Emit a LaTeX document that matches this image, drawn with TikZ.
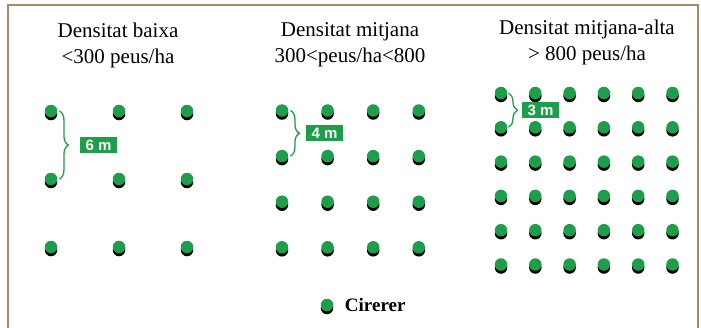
\documentclass[tikz,border=0pt]{standalone}
\usepackage{fontspec}
\setmainfont{Liberation Serif}
\newfontfamily\distfont{Liberation Sans}
\usetikzlibrary{positioning}
\usetikzlibrary{calc}
\usetikzlibrary{shadows}
\usetikzlibrary{decorations.pathreplacing}
\definecolor{treegreen}{HTML}{1E9E4A}
\definecolor{framebrown}{HTML}{A68B63}
\tikzset{
    tree/.style = {circle,fill=treegreen,inner sep=0,minimum size=12.5pt,
        drop shadow={shadow xshift=0pt,shadow yshift=-3pt,opacity=1,fill=black}},
    dist/.style = {fill=treegreen,text=white,inner xsep=5.5pt,inner ysep=0pt,minimum height=16pt,
        font=\distfont\bfseries\fontsize{15}{15}\selectfont},
    gap/.style = {draw=treegreen,line width=1.3pt,decorate,decoration={brace,amplitude=9pt}},
    title/.style = {align=center,font=\fontsize{21}{26}\selectfont},
    frame/.style = {draw=framebrown,line width=2pt}
}
\begin{document}
\begin{tikzpicture}[x=1pt,y=-1pt]
        \useasboundingbox (0,0) rectangle (701,327);
        \newcommand\sepa{68}
        \newcommand\sepb{45.6}
        \newcommand\sepc{34.3}
        % Frame
        \draw[frame] (7.5,340) -- (7.5,5) -- (698,5) -- (698,340);
        % Titles
        \node[title] (ta) at (118,45) {Densitat baixa\\<300 peus/ha};
        \node[title] (tb) at (350,45) {Densitat mitjana\\300<peus/ha<800};
        \node[title] (tc) at (587,42) {Densitat mitjana-alta\\> 800 peus/ha};
        % Trees
        \foreach \i in {0,1,2}
            \foreach \j in {0,1,2}
                \node[tree] (a\i\j) at (51+\sepa*\j,111+\sepa*\i) {};
        \foreach \i in {0,...,3}
            \foreach \j in {0,...,3}
                \node[tree] (b\i\j) at (282+\sepb*\j,110.5+\sepb*\i) {};
        \foreach \i in {0,...,5}
            \foreach \j in {0,...,5}
                \node[tree] (c\i\j) at (501+\sepc*\j,93+\sepc*\i) {};
        % Distances
        \draw[gap] ([xshift=2pt]a00.east) -- ([xshift=2pt]a10.east);
        \draw[gap] ([xshift=2pt]b00.east) -- ([xshift=2pt]b10.east);
        \draw[gap] ([xshift=1pt]c00.east) -- ([xshift=1pt]c10.east);
        \coordinate (ma) at ($(a00)!0.5!(a10)$);
        \coordinate (mb) at ($(b00)!0.5!(b10)$);
        \coordinate (mc) at ($(c00)!0.5!(c10)$);
        \node[dist,right=29pt of ma,anchor=west] (da) {6 m};
        \node[dist,right=24pt of mb,anchor=west] (db) {4 m};
        \node[dist,right=21pt of mc,anchor=west] (dc) {3 m};
        % Legend
        \node[tree] (leg) at (327,305) {};
        \node[right=8pt of leg,font=\bfseries\fontsize{19}{19}\selectfont] (legtext) {Cirerer};
    \end{tikzpicture}
\end{document}
